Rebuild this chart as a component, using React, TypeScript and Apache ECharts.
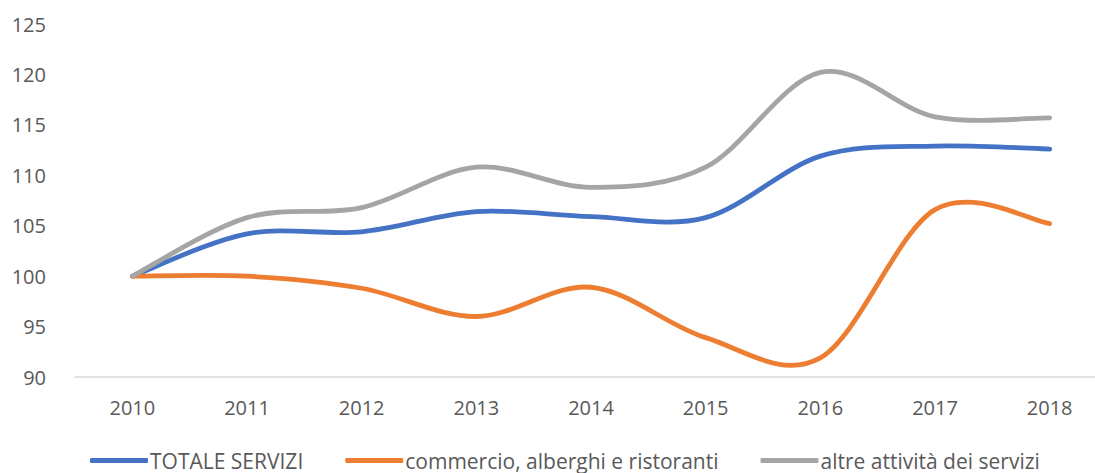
import React, { useEffect, useRef } from "react";
import * as echarts from "echarts";

const years = ["2010", "2011", "2012", "2013", "2014", "2015", "2016", "2017", "2018"];
const totaleServizi = [100, 104.2, 104.4, 106.4, 105.9, 105.8, 111.9, 112.9, 112.6];
const commercio = [100, 100, 98.8, 96, 98.9, 93.9, 91.9, 106.6, 105.2];
const altreAttivita = [100, 105.8, 106.8, 110.8, 108.8, 110.8, 120.2, 115.8, 115.7];
const seriesNames = ["TOTALE SERVIZI", "commercio, alberghi e ristoranti", "altre attività dei servizi"];
const colors = ["#4472C4", "#ED7D31", "#A5A5A5"];

function smoothSeries(name: string, values: number[], color: string) {
  return {
    name,
    type: "custom",
    coordinateSystem: "cartesian2d",
    clip: false,
    data: values.map((v, i) => [i, v]),
    encode: { x: 0, y: 1 },
    itemStyle: { color },
    renderItem: (params: any, api: any) => {
      if (params.dataIndex !== 0) return null;
      const pts: number[][] = values.map((v, i) => api.coord([i, v]));
      let d = `M${pts[0][0]},${pts[0][1]}`;
      for (let i = 0; i < pts.length - 1; i++) {
        const p0 = pts[i - 1] || pts[i];
        const p1 = pts[i];
        const p2 = pts[i + 1];
        const p3 = pts[i + 2] || p2;
        const c1x = p1[0] + (p2[0] - p0[0]) / 6;
        const c1y = p1[1] + (p2[1] - p0[1]) / 6;
        const c2x = p2[0] - (p3[0] - p1[0]) / 6;
        const c2y = p2[1] - (p3[1] - p1[1]) / 6;
        d += ` C${c1x},${c1y} ${c2x},${c2y} ${p2[0]},${p2[1]}`;
      }
      return {
        type: "path",
        shape: { pathData: d },
        silent: true,
        style: { fill: "none", stroke: color, lineWidth: 4.8, lineCap: "round", lineJoin: "round" },
      };
    },
  };
}

export default function App() {
  const ref = useRef<HTMLDivElement>(null);
  useEffect(() => {
    if (!ref.current) return;
    const chart = echarts.init(ref.current, null, { renderer: "svg" });
    chart.setOption({
      animation: false,
      textStyle: { fontFamily: "Open Sans" },
      grid: { left: 75, right: 0, top: 24, bottom: 96, containLabel: false },
      xAxis: {
        type: "category",
        data: years,
        boundaryGap: true,
        axisLine: { lineStyle: { color: "#D9D9D9", width: 1.5 } },
        axisTick: { show: false },
        axisLabel: { color: "#595959", fontSize: 20, margin: 20, fontFamily: "Open Sans" },
      },
      yAxis: {
        type: "value",
        min: 90,
        max: 125,
        interval: 5,
        splitLine: { show: false },
        axisLine: { show: false },
        axisTick: { show: false },
        axisLabel: { color: "#595959", fontSize: 20, margin: 29, fontFamily: "Open Sans" },
      },
      legend: {
        top: 450,
        left: 90,
        padding: 0,
        itemWidth: 58,
        itemHeight: 5,
        itemGap: 42,
        icon: "roundRect",
        textStyle: { color: "#595959", fontSize: 21, fontFamily: "Open Sans", padding: [0, 0, 0, -3] },
        data: seriesNames,
      },
      series: [
        smoothSeries(seriesNames[0], totaleServizi, colors[0]),
        smoothSeries(seriesNames[1], commercio, colors[1]),
        smoothSeries(seriesNames[2], altreAttivita, colors[2]),
      ],
    });
    return () => chart.dispose();
  }, []);
  return (
    <div
      style={{ position: "absolute", left: 0, top: 0, width: 1095, height: 473, overflow: "hidden", background: "#fff" }}
    >
      <div ref={ref} style={{ width: 1107, height: 473 }} />
    </div>
  );
}
